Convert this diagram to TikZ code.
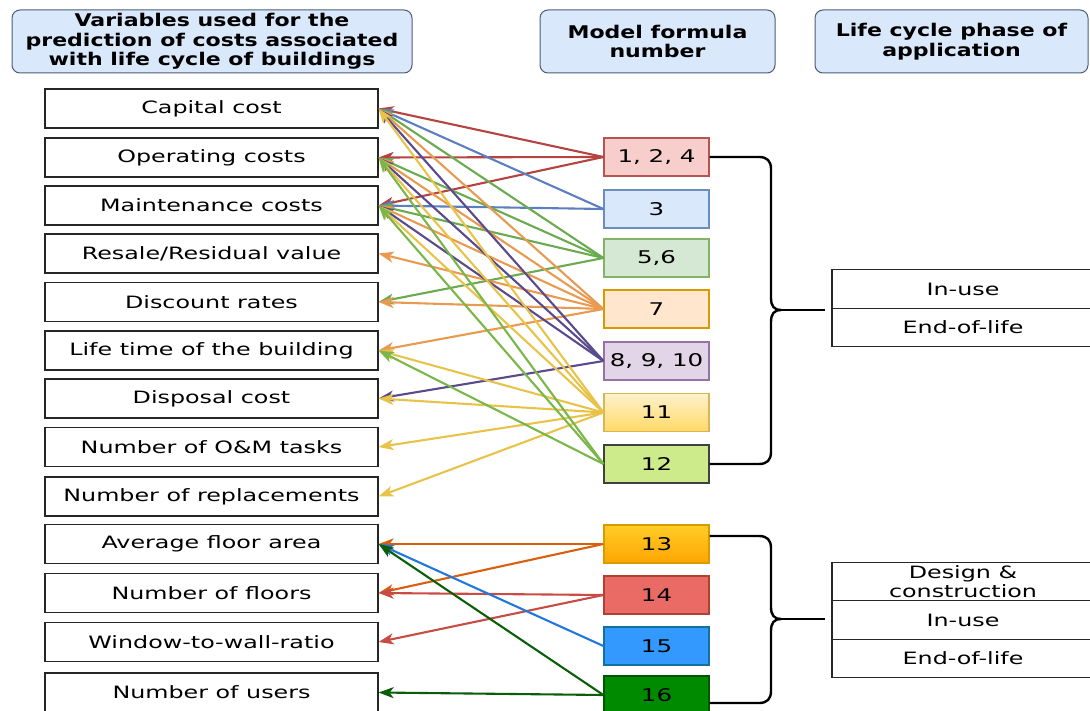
\documentclass[tikz,border=0pt]{standalone}
\usepackage{fontspec}
\usepackage{tikz}
\usetikzlibrary{arrows.meta}
\setmainfont{DejaVu Sans}[FakeStretch=1.4]
\newfontfamily\headfont{DejaVu Sans}[FakeStretch=1.26]
\definecolor{headfill}{HTML}{DAE8FC}
\definecolor{headline}{HTML}{4D5D75}
\definecolor{redfill}{HTML}{F8CECC}
\definecolor{redline}{HTML}{B85450}
\definecolor{bluefill}{HTML}{DAE8FC}
\definecolor{blueline}{HTML}{6C8EBF}
\definecolor{greenfill}{HTML}{D5E8D4}
\definecolor{greenline}{HTML}{82B366}
\definecolor{orangefill}{HTML}{FFE6CC}
\definecolor{orangeline}{HTML}{D79B00}
\definecolor{purplefill}{HTML}{E1D5E7}
\definecolor{purpleline}{HTML}{9673A6}
\definecolor{yellowtop}{HTML}{FFF2CC}
\definecolor{yellowbot}{HTML}{FFD966}
\definecolor{yellowline}{HTML}{D6B656}
\definecolor{limefill}{HTML}{CDEB8B}
\definecolor{ambertop}{HTML}{FFCD28}
\definecolor{amberbot}{HTML}{FFA500}
\definecolor{coralfill}{HTML}{EA6B66}
\definecolor{coralline}{HTML}{AE4132}
\definecolor{skyfill}{HTML}{3399FF}
\definecolor{skyline}{HTML}{10739E}
\definecolor{darkgreenfill}{HTML}{008A00}
\definecolor{darkgreenline}{HTML}{005700}
\definecolor{redarrow}{HTML}{B5433F}
\definecolor{bluearrow}{HTML}{5B7FBF}
\definecolor{greenarrow}{HTML}{6AAA50}
\definecolor{orangearrow}{HTML}{E89A50}
\definecolor{purplearrow}{HTML}{5A4A8C}
\definecolor{yellowarrow}{HTML}{E8C34A}
\definecolor{limearrow}{HTML}{7AB648}
\definecolor{amberarrow}{HTML}{D95F0E}
\definecolor{coralarrow}{HTML}{C84B44}
\definecolor{skyarrow}{HTML}{2277DD}
\definecolor{darkgreenarrow}{HTML}{0A5E0A}

\begin{document}
\begin{tikzpicture}[x=1pt,y=-1pt,
  head/.style={draw=headline,fill=headfill,rounded corners=8pt,line width=1pt,minimum height=63pt,inner sep=0pt,align=center,font=\headfont\bfseries\fontsize{17.5}{19.5}\selectfont},
  var/.style={draw=black!85,line width=1.2pt,fill=white,minimum width=333pt,minimum height=39pt,inner sep=0pt,font=\fontsize{17}{19}\selectfont},
  form/.style={line width=1.2pt,minimum width=105pt,minimum height=38pt,inner sep=0pt,font=\fontsize{17.5}{19}\selectfont},
  phase/.style={draw=black!85,line width=1.2pt,minimum width=262pt,minimum height=38.5pt,inner sep=0pt,align=center,font=\fontsize{17}{19}\selectfont},
  link/.style={-{Stealth[length=15pt,width=11pt,inset=4pt]},line width=2.1pt},
  brace/.style={line width=2.4pt}]
  \useasboundingbox (0,0) rectangle (1090,711);
  \node[head,minimum width=400pt] (hvar) at (212,41.5) {\strut Variables used for the\\prediction of costs associated\\with life cycle of buildings};
  \node[head,minimum width=235pt] (hform) at (657.5,41.5) {\strut Model formula\\number};
  \node[head,minimum width=273pt] (hphase) at (951.5,41.5) {\strut Life cycle phase of\\application};
  \node[var] (cap) at (211.5,108.5) {Capital cost};
  \node[var] (opr) at (211.5,157.5) {Operating costs};
  \node[var] (mnt) at (211.5,205.5) {Maintenance costs};
  \node[var] (res) at (211.5,253.5) {Resale/Residual value};
  \node[var] (disc) at (211.5,302) {Discount rates};
  \node[var] (life) at (211.5,350.5) {Life time of the building};
  \node[var] (disp) at (211.5,398.5) {Disposal cost};
  \node[var] (onm) at (211.5,447) {Number of O\&M tasks};
  \node[var] (repl) at (211.5,496.5) {Number of replacements};
  \node[var] (area) at (211.5,544) {Average floor area};
  \node[var] (flrs) at (211.5,593) {Number of floors};
  \node[var] (wwr) at (211.5,642) {Window-to-wall-ratio};
  \node[var] (usr) at (211.5,692.5) {Number of users};
  \node[form,draw=redline,fill=redfill] (f1) at (656.5,157) {1, 2, 4};
  \node[form,draw=blueline,fill=bluefill] (f3) at (656.5,209) {3};
  \node[form,draw=greenline,fill=greenfill] (f56) at (656.5,258) {5,6};
  \node[form,draw=orangeline,fill=orangefill] (f7) at (656.5,309) {7};
  \node[form,draw=purpleline,fill=purplefill] (f810) at (656.5,361) {8, 9, 10};
  \node[form,draw=yellowline,top color=yellowtop,bottom color=yellowbot] (f11) at (656.5,412.5) {11};
  \node[form,draw=black!75,fill=limefill] (f12) at (656.5,464) {12};
  \node[form,draw=orangeline,top color=ambertop,bottom color=amberbot] (f13) at (656.5,544) {13};
  \node[form,draw=coralline,fill=coralfill] (f14) at (656.5,595) {14};
  \node[form,draw=skyline,fill=skyfill] (f15) at (656.5,646) {15};
  \node[form,draw=darkgreenline,fill=darkgreenfill] (f16) at (656.5,695) {16};
  \node[phase] (inuseA) at (963,289) {In-use};
  \node[phase] (eolA) at (963,327.5) {End-of-life};
  \node[phase] (dsgB) at (963,581.5) {Design \&\\construction};
  \node[phase] (inuseB) at (963,620) {In-use};
  \node[phase] (eolB) at (963,658.5) {End-of-life};
  \draw[link,redarrow] (f1.west) -- (cap.east);
  \draw[link,redarrow] (f1.west) -- (opr.east);
  \draw[link,redarrow] (f1.west) -- (mnt.east);
  \draw[link,bluearrow] (f3.west) -- (cap.east);
  \draw[link,bluearrow] (f3.west) -- (mnt.east);
  \draw[link,greenarrow] (f56.west) -- (cap.east);
  \draw[link,greenarrow] (f56.west) -- (opr.east);
  \draw[link,greenarrow] (f56.west) -- (mnt.east);
  \draw[link,greenarrow] (f56.west) -- (disc.east);
  \draw[link,orangearrow] (f7.west) -- (cap.east);
  \draw[link,orangearrow] (f7.west) -- (opr.east);
  \draw[link,orangearrow] (f7.west) -- (mnt.east);
  \draw[link,orangearrow] (f7.west) -- (res.east);
  \draw[link,orangearrow] (f7.west) -- (disc.east);
  \draw[link,orangearrow] (f7.west) -- (life.east);
  \draw[link,purplearrow] (f810.west) -- (cap.east);
  \draw[link,purplearrow] (f810.west) -- (opr.east);
  \draw[link,purplearrow] (f810.west) -- (mnt.east);
  \draw[link,purplearrow] (f810.west) -- (disp.east);
  \draw[link,yellowarrow] (f11.west) -- (cap.east);
  \draw[link,yellowarrow] (f11.west) -- (opr.east);
  \draw[link,yellowarrow] (f11.west) -- (mnt.east);
  \draw[link,yellowarrow] (f11.west) -- (life.east);
  \draw[link,yellowarrow] (f11.west) -- (disp.east);
  \draw[link,yellowarrow] (f11.west) -- (onm.east);
  \draw[link,yellowarrow] (f11.west) -- (repl.east);
  \draw[link,limearrow] (f12.west) -- (opr.east);
  \draw[link,limearrow] (f12.west) -- (mnt.east);
  \draw[link,limearrow] (f12.west) -- (life.east);
  \draw[link,amberarrow] (f13.west) -- (area.east);
  \draw[link,amberarrow] (f13.west) -- (flrs.east);
  \draw[link,coralarrow] (f14.west) -- (flrs.east);
  \draw[link,coralarrow] (f14.west) -- (wwr.east);
  \draw[link,skyarrow] (f15.west) -- (area.east);
  \draw[link,darkgreenarrow] (f16.west) -- (area.east);
  \draw[link,darkgreenarrow] (f16.west) -- (usr.east);
  \coordinate (tipA) at (781,310);
  \coordinate (endA) at (825,310);
  \draw[brace] (f1.east) -- (759,157) .. controls (767,157) and (771,161) .. (771,169) -- (771,298) .. controls (771,306) and (774,310) .. (tipA);
  \draw[brace] (tipA) .. controls (774,310) and (771,314) .. (771,322) -- (771,452) .. controls (771,460) and (767,464) .. (759,464) -- (f12.east);
  \draw[brace] (tipA) -- (endA);
  \coordinate (tipB) at (781,619);
  \coordinate (endB) at (825,619);
  \draw[brace] ([yshift=8pt]f13.east) -- (759,536) .. controls (767,536) and (771,540) .. (771,548) -- (771,607) .. controls (771,615) and (774,619) .. (tipB);
  \draw[brace] (tipB) .. controls (774,619) and (771,623) .. (771,631) -- (771,691) .. controls (771,699) and (767,703) .. (759,703) -- ([yshift=-8pt]f16.east);
  \draw[brace] (tipB) -- (endB);
\end{tikzpicture}
\end{document}
